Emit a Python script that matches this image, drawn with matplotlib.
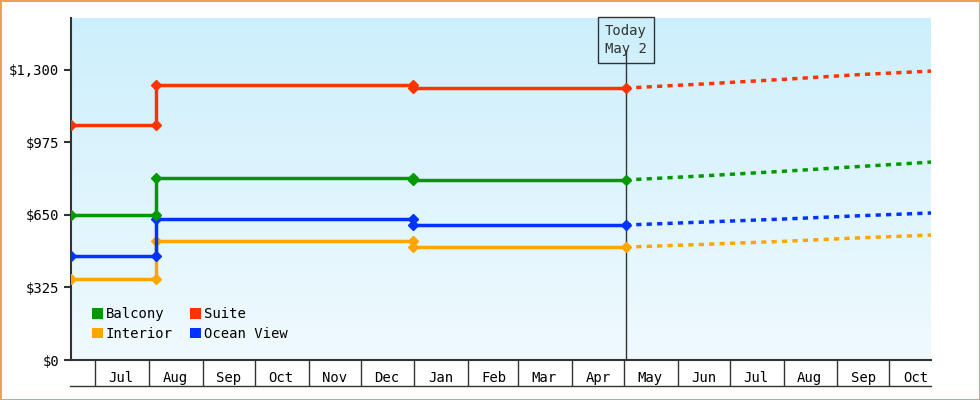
import matplotlib
matplotlib.use("Agg")
import matplotlib.pyplot as plt
import matplotlib.dates as mdates
import numpy as np
from datetime import datetime as dt
from matplotlib.lines import Line2D
from matplotlib.patches import Patch

plt.rcParams['font.family'] = ['DejaVu Sans Mono']

# historical step data
hist_dates = [dt(2023,6,17), dt(2023,8,5), dt(2023,8,5), dt(2023,12,31), dt(2023,12,31), dt(2024,5,2)]
marker_idx = [0, 1, 2, 3, 4, 5]
series = {
    'Balcony':    [650, 650, 816, 816, 807, 807],
    'Suite':      [1053, 1053, 1233, 1233, 1219, 1219],
    'Interior':   [363, 363, 533, 533, 506, 506],
    'Ocean View': [466, 466, 632, 632, 605, 605],
}
colors = {'Balcony': '#009900', 'Suite': '#ff3300', 'Interior': '#ffa500', 'Ocean View': '#0033ff'}
# projections
proj_dates = [dt(2024,5,2), dt(2024,6,15), dt(2024,8,1), dt(2024,9,15), dt(2024,10,25)]
proj = {
    'Balcony':    [807, 825, 846, 868, 887],
    'Suite':      [1219, 1237, 1258, 1280, 1295],
    'Interior':   [506, 518, 532, 548, 560],
    'Ocean View': [605, 618, 632, 647, 659],
}
today = dt(2024,5,2)
yticks = [0, 325, 650, 975, 1300]
ytick_labels = ['$0', '$325', '$650', '$975', '$1,300']
month_starts = [dt(2023,7,1), dt(2023,8,1), dt(2023,9,1), dt(2023,10,1), dt(2023,11,1), dt(2023,12,1),
                dt(2024,1,1), dt(2024,2,1), dt(2024,3,1), dt(2024,4,1), dt(2024,5,1), dt(2024,6,1),
                dt(2024,7,1), dt(2024,8,1), dt(2024,9,1), dt(2024,10,1)]
month_labels = ['Jul','Aug','Sep','Oct','Nov','Dec','Jan','Feb','Mar','Apr','May','Jun','Jul','Aug','Sep','Oct']

fig = plt.figure(figsize=(9.8, 4.0), dpi=100)
fig.patch.set_edgecolor('#f0a050')
fig.patch.set_linewidth(2)
ax = fig.add_axes([71/980, 40/400, 860/980, 342/400])
xmin, xmax = mdates.date2num(dt(2023,6,17)), mdates.date2num(dt(2024,10,25))
ax.set_xlim(xmin, xmax)
ax.set_ylim(0, 1533)

grad = np.linspace(1, 0, 256).reshape(-1, 1)
top = np.array([0xcd, 0xef, 0xfc]) / 255
bot = np.array([0xf0, 0xfa, 0xfe]) / 255
img = grad[..., None] * top + (1 - grad[..., None]) * bot
ax.imshow(img, extent=[xmin, xmax, 0, 1533], aspect='auto', zorder=0)

for name in ['Interior', 'Ocean View', 'Balcony', 'Suite']:
    c = colors[name]
    ax.plot(hist_dates, series[name], color=c, lw=2.5, marker='D', ms=5, markevery=marker_idx, zorder=3)
    ax.plot(proj_dates, proj[name], color=c, lw=2.5, ls=(0, (1.5, 1.5)), zorder=3)

tn = mdates.date2num(today)
ax.plot([tn, tn], [0, 1390], color='#333333', lw=1, zorder=2)
ax.text(tn, 1434, 'Today\nMay 2', ha='center', va='center', fontsize=10, color='#333333', zorder=4,
        linespacing=1.4, bbox=dict(boxstyle='square,pad=0.5', fc='none', ec='#333333', lw=1))

ax.set_yticks(yticks)
ax.set_yticklabels(ytick_labels, fontsize=10)
ax.tick_params(axis='y', length=5, width=1.5, color='#333333')
ax.set_xticks([mdates.date2num(d) for d in month_starts])
ax.set_xticklabels([])
ax.tick_params(axis='x', which='major', length=19, width=1, color='#333333', direction='out')
mids = [mdates.date2num(d) + 15 for d in month_starts]
ax.set_xticks(mids, minor=True)
ax.set_xticklabels(month_labels, minor=True, fontsize=10)
ax.tick_params(axis='x', which='minor', length=0, pad=8)
for s in ['top', 'right']:
    ax.spines[s].set_visible(False)
ax.spines['left'].set_linewidth(1.5)
ax.spines['bottom'].set_linewidth(1.5)
ax.spines['left'].set_color('#333333')
ax.spines['bottom'].set_color('#333333')
fig.add_artist(Line2D([70/980, 931/980], [14/400, 14/400], color='#333333', lw=1))

handles = [Patch(fc=colors['Balcony']), Patch(fc=colors['Interior']),
           Patch(fc=colors['Suite']), Patch(fc=colors['Ocean View'])]
ax.legend(handles, ['Balcony', 'Interior', 'Suite', 'Ocean View'], ncol=2, loc='lower left',
          bbox_to_anchor=(0.01, 0.02), frameon=False, fontsize=10, handlelength=0.8, handleheight=0.8,
          handletextpad=0.2, columnspacing=1.2, labelspacing=0.4)
fig.savefig('out.png', dpi=100)
